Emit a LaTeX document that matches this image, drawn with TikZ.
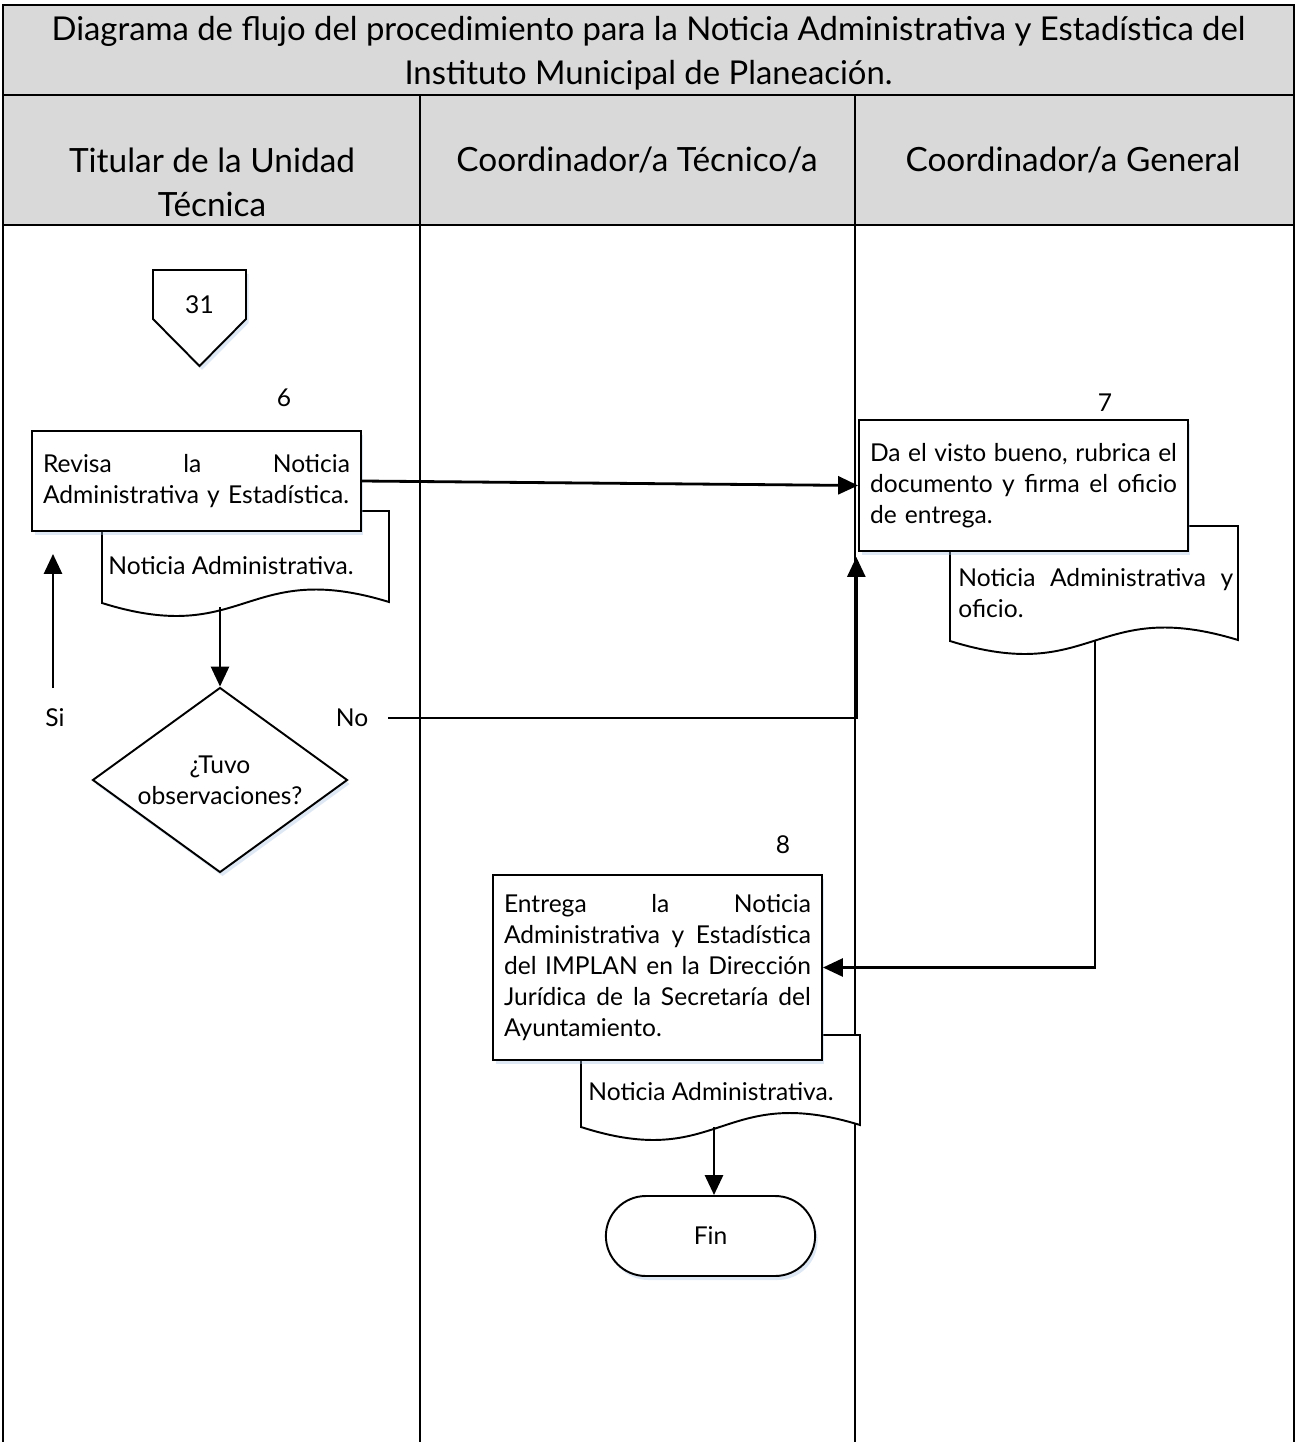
\documentclass[tikz,border=0pt]{standalone}
\usepackage{fontspec}
\setmainfont{Lato}
\usepackage{xcolor}
\definecolor{hdrgray}{RGB}{217,217,217}
\definecolor{shadowblue}{RGB}{160,190,225}
\usepackage{tikz}
\usetikzlibrary{arrows.meta, positioning, shapes.geometric, shapes.misc, shadows}

\newcommand{\txtbody}{\fontsize{14}{17.6}\selectfont}
\newcommand{\txthead}{\fontsize{19}{25}\selectfont}
\newcommand{\txttitle}{\fontsize{18.7}{25}\selectfont}
\newcommand{\jline}[1]{\makebox[\hsize][s]{\spaceskip=0pt\xspaceskip=0pt\relax #1}}

\tikzset{
  lane/.style={line width=1.1pt},
  hdr/.style={font=\txthead, align=center, inner sep=0pt},
  softshadow/.style={drop shadow={shadow xshift=0.5mm, shadow yshift=-0.8mm, fill=shadowblue, opacity=0.35}},
  procbox/.style={draw, line width=1.1pt, fill=white, minimum width=6.58cm,
    text width=6.14cm, inner xsep=0.22cm, align=left, font=\txtbody, softshadow},
  docshape/.style={draw, line width=1.1pt, fill=white},
  doctext/.style={font=\txtbody, inner sep=0pt, anchor=west, align=left},
  decision/.style={diamond, aspect=1.4, draw, line width=1.1pt, fill=white, minimum width=5.1cm,
    minimum height=3.7cm, inner sep=0pt, align=center, font=\txtbody, softshadow},
  terminal/.style={rounded rectangle, draw, line width=1.1pt, fill=white, minimum width=4.42cm,
    minimum height=1.6cm, font=\txtbody, softshadow},
  stepnum/.style={font=\txtbody, inner sep=0pt},
  arr/.style={line width=1.6pt, -{Triangle[length=4mm, width=3.6mm]}},
  link/.style={line width=1.6pt}
}

\begin{document}
\begin{tikzpicture}[x=0.02cm, y=-0.02cm]
  \useasboundingbox (0,0) rectangle (1297,1442);

  % Header bands and lanes
  \fill[hdrgray] (3,5) rectangle (1294,225);
  \draw[lane] (3,1442) -- (3,5) -- (1294,5) -- (1294,1442);
  \draw[lane] (3,95) -- (1294,95);
  \draw[line width=1.6pt] (3,225) -- (1294,225);
  \draw[lane] (420,95) -- (420,1442);
  \draw[lane] (855,95) -- (855,1442);
  \node[hdr, font=\txttitle] (titulo) at (648.5,53) {Diagrama de flujo del procedimiento para la Noticia Administrativa y Estadística del\\Instituto Municipal de Planeación.};
  \node[hdr] (lane1) at (212,182) {Titular de la Unidad\\Técnica};
  \node[hdr] (lane2) at (637,160) {Coordinador/a Técnico/a};
  \node[hdr] (lane3) at (1073,160) {Coordinador/a General};

  % --- Off-page connector 31 ---
  \draw[line width=1.1pt, fill=white, softshadow] (153,270) -- (246,270) -- (246,319) -- (199.5,366) -- (153,319) -- cycle;
  \node[stepnum] (con31) at (199.5,305) {31};

  % --- Step 6 ---
  \node[stepnum] (n6) at (284,398) {6};
  \draw[docshape] (102,511) -- (102,603) .. controls (245.5,648) and (245.5,558) .. (389,602) -- (389,511) -- cycle;
  \node[doctext] (doc6) at (108,566) {Noticia Administrativa.};
  \node[procbox, minimum height=2cm] (revisa) at (196.5,481)
    {\jline{Revisa la Noticia}\\Administrativa y Estadística.};
  \coordinate (doc6b) at (220,607);

  % Decision
  \node[decision] (tuvo) at (220,780) {¿Tuvo\\observaciones?};
  \node[stepnum] (si) at (55,718) {Si};
  \node[stepnum] (no) at (352,718) {No};
  \coordinate (siup) at (53,688);
  \coordinate (noout) at (388,718);

  % --- Step 7 ---
  \node[stepnum] (n7) at (1105,403) {7};
  \draw[docshape] (950,526) -- (950,641) .. controls (1094,686) and (1094,596) .. (1238,640) -- (1238,526) -- cycle;
  \node[doctext, text width=5.5cm] (doc7) at (958,593) {\jline{Noticia Administrativa y}\\oficio.};
  \node[procbox, minimum height=2.62cm] (vobo) at (1023.5,485.5)
    {\jline{Da el visto bueno, rubrica el}\\\jline{documento y firma el oficio}\\de entrega.};
  \coordinate (doc7b) at (1095,640);

  % --- Step 8 ---
  \node[stepnum] (n8) at (783,845) {8};
  \draw[docshape] (581,1035) -- (581,1127) .. controls (720.5,1172) and (720.5,1082) .. (860,1125) -- (860,1035) -- cycle;
  \node[doctext] (doc8) at (588,1092) {Noticia Administrativa.};
  \node[procbox, minimum height=3.7cm] (entrega) at (657.5,967.5)
    {\jline{Entrega la Noticia}\\\jline{Administrativa y Estadística}\\\jline{del IMPLAN en la Dirección}\\\jline{Jurídica de la Secretaría del}\\Ayuntamiento.};
  \coordinate (doc8b) at (714,1127);

  % Fin
  \node[terminal] (fin) at (710.5,1236) {Fin};

  % Connectors
  \draw[arr] (revisa.east) -- (vobo.west);
  \draw[arr] (doc6b) -- (tuvo.north);
  \draw[arr, shorten >=0.44cm] (siup) -- (siup |- revisa.south);
  \draw[arr, shorten >=0.1cm] (noout) -| ([xshift=-1pt]vobo.south west);
  \draw[arr] (doc7b) |- (entrega.east);
  \draw[arr] (doc8b) -- (doc8b |- fin.north);
\end{tikzpicture}
\end{document}
